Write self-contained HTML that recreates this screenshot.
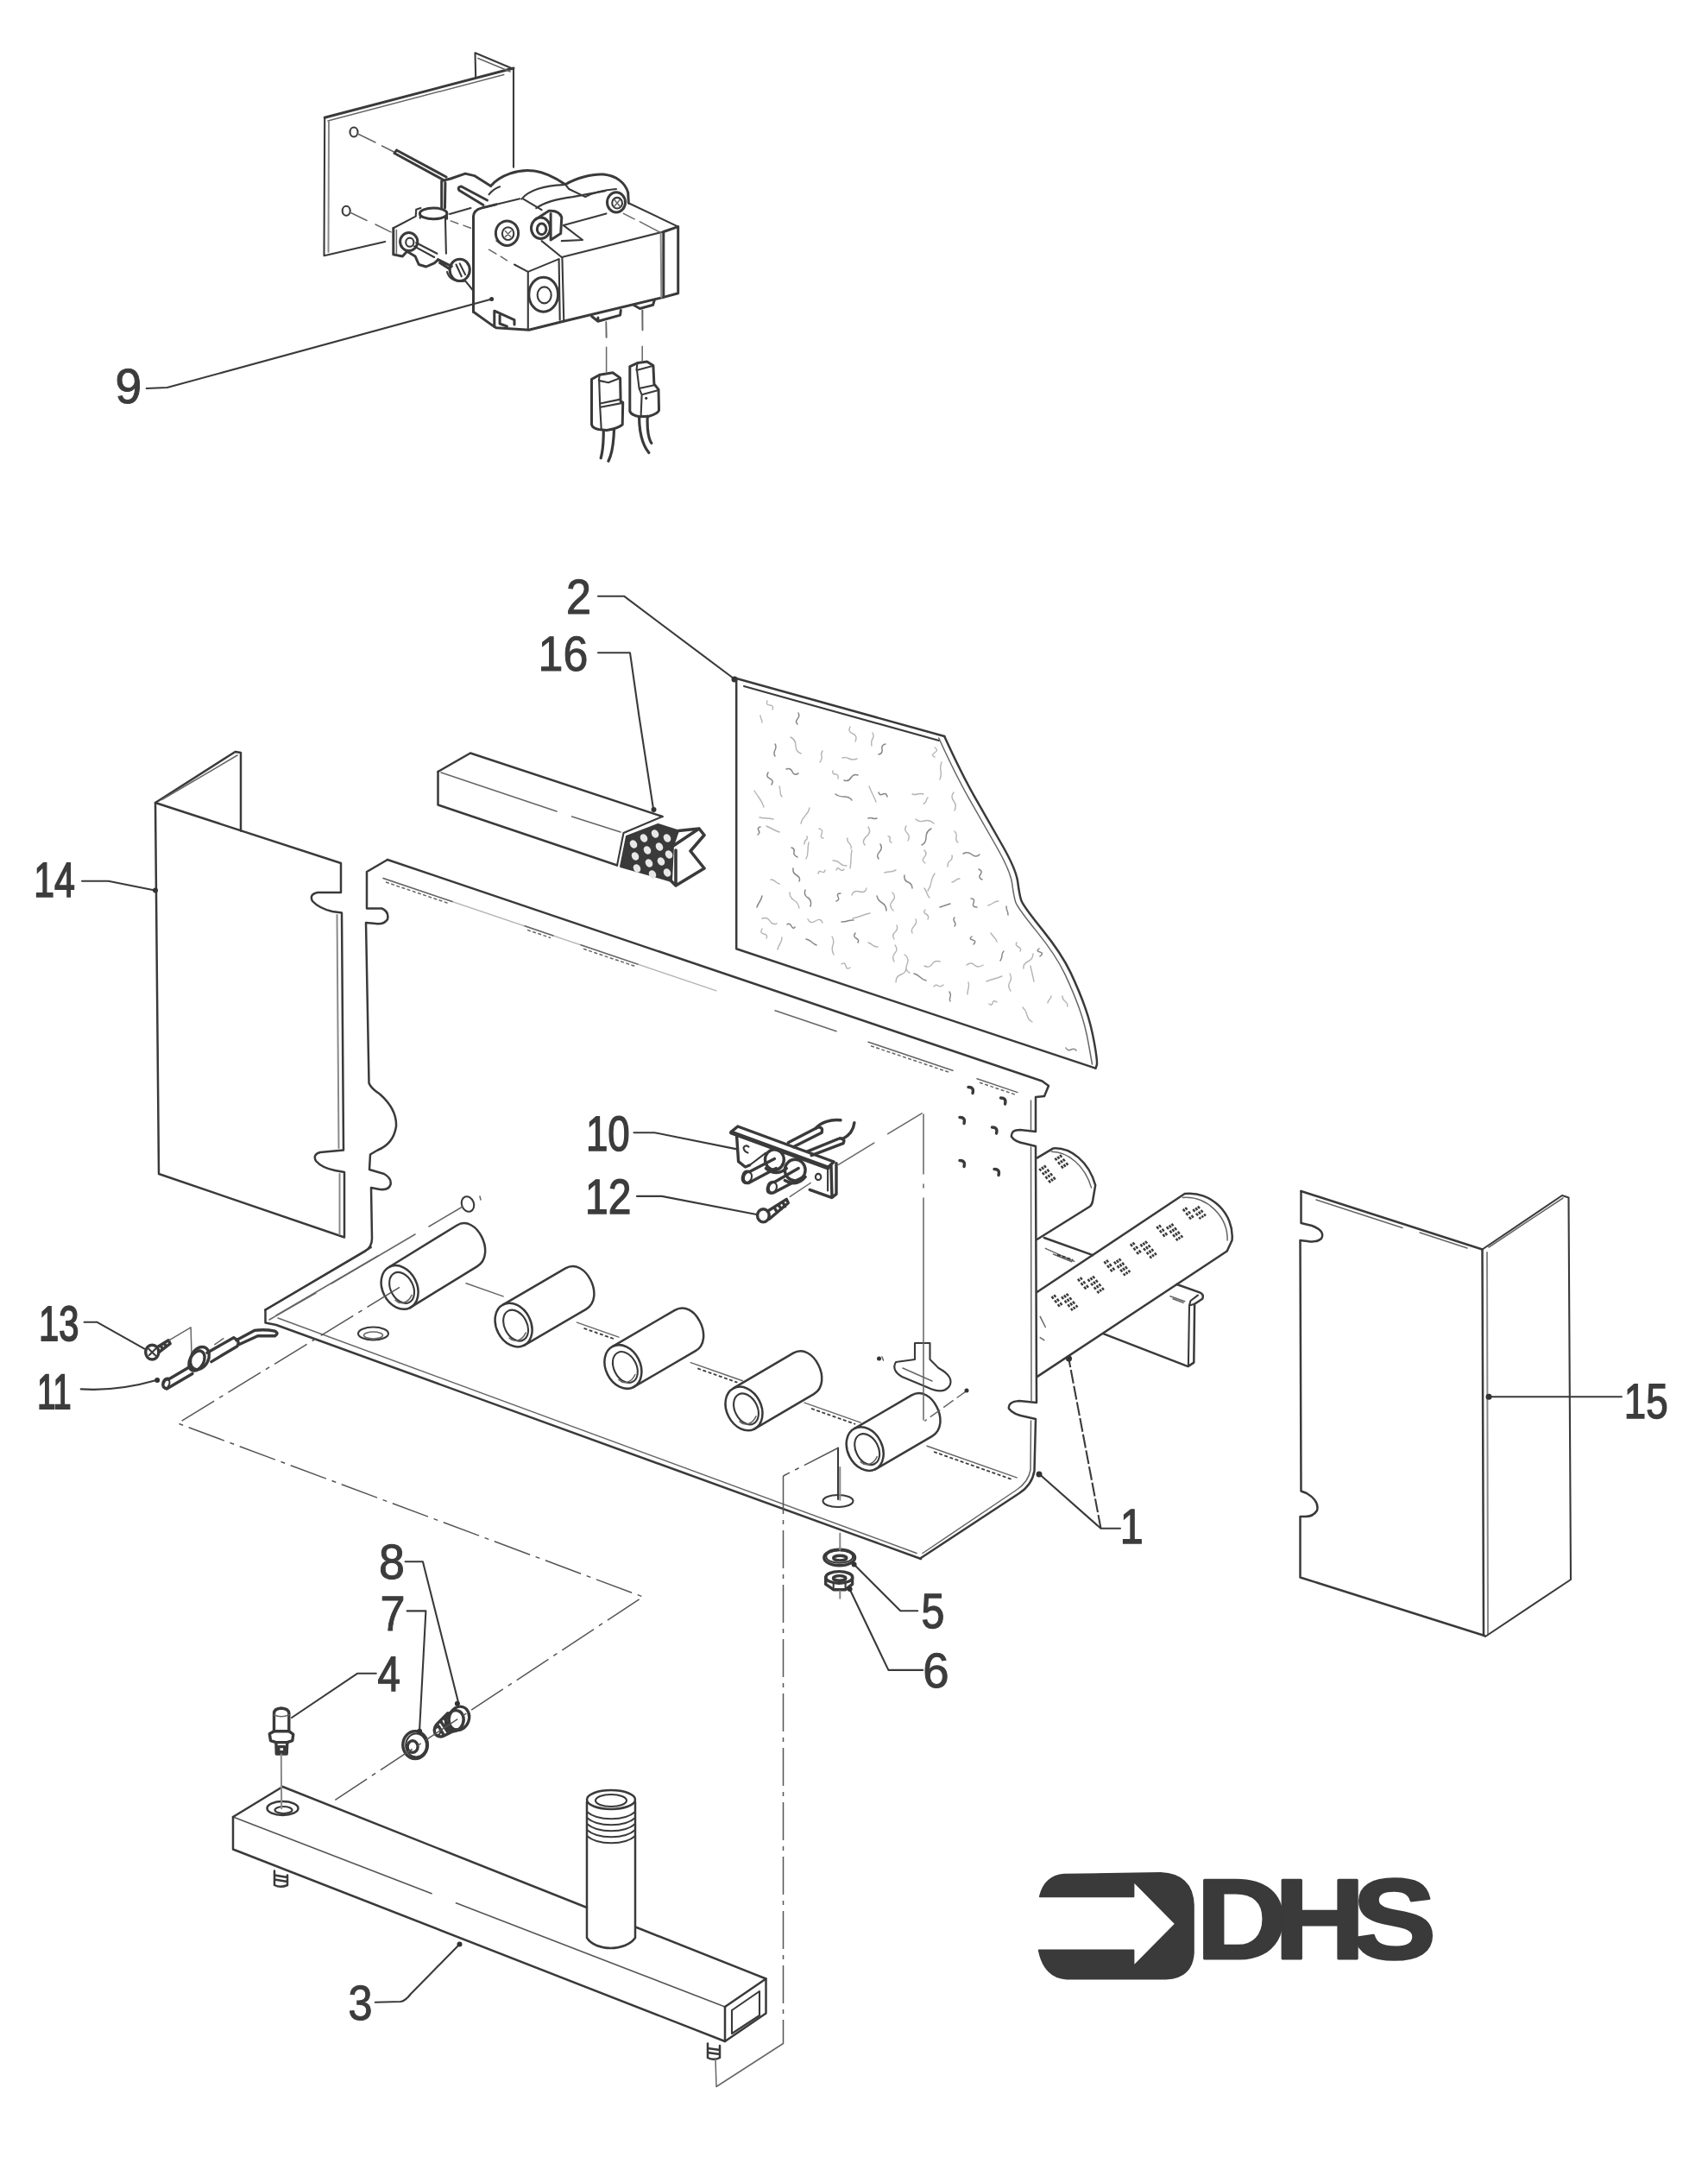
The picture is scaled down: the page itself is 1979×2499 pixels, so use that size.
<!DOCTYPE html>
<html lang="en"><head><meta charset="utf-8"><title>DHS exploded parts diagram</title>
<style>
html,body{margin:0;padding:0;background:#fff}
body{width:1979px;height:2499px;overflow:hidden;font-family:"Liberation Sans",sans-serif}
svg{display:block;filter:blur(.55px)}
.l,.k,.k2,.k3,.t,.c,.g,.m{fill:none;stroke:#3a3a3a;stroke-width:2.1;stroke-linecap:round;stroke-linejoin:round}
.k{stroke-width:2.5}
.k2{stroke-width:3}
.k3{stroke-width:3.4}
.t{stroke-width:1.5;stroke:#666}
.g{stroke-width:2;stroke:#8a8a8a}
.m{stroke-width:1.5;stroke:#888}
.q{fill:none;stroke:#b4b4b4;stroke-width:1.4;stroke-linecap:round}
.c{stroke-width:1.5;stroke:#555;stroke-dasharray:44 7 5 7;stroke-linecap:butt}
[stroke-dasharray]{stroke-linecap:butt}
.h{fill:none;stroke:#3a3a3a;stroke-width:2.4;stroke-linecap:butt;stroke-dasharray:3.4 2.4}
.d{fill:#333;stroke:none}
.f{fill:#3a3a3a;stroke:#3a3a3a;stroke-width:2;stroke-linejoin:round}
.wl{fill:none;stroke:#fff;stroke-width:1.6}
.wh{fill:#e8e8e8;stroke:none}
.w{fill:#fff;stroke:#3a3a3a;stroke-width:2.6;stroke-linejoin:round;stroke-linecap:round}
.n,.logo{text-rendering:geometricPrecision}
.n{font-family:"Liberation Sans",sans-serif;font-size:57px;fill:#3c3c3c;stroke:#3c3c3c}
.n:not([stroke-width]){stroke-width:1}
.logo{font-family:"Liberation Sans",sans-serif;font-weight:bold;font-size:132px;fill:#3a3a3a;stroke:#3a3a3a;stroke-width:3;stroke-linejoin:round}
</style></head>
<body>
<svg width="1979" height="2499" viewBox="0 0 1979 2499">
<text class="n" transform="translate(133.4 467.2) scale(0.969 1)">9</text>
<text class="n" transform="translate(656.1 710.6) scale(0.915 1)">2</text>
<text class="n" transform="translate(623.6 777.3) scale(0.911 1)">16</text>
<text class="n" stroke-width="1.7" transform="translate(39.3 1038.5) scale(0.751 1)">14</text>
<text class="n" stroke-width="1.5" transform="translate(678.9 1332.5) scale(0.802 1)">10</text>
<text class="n" stroke-width="1.3" transform="translate(678 1406.3) scale(0.841 1)">12</text>
<text class="n" stroke-width="1.8" transform="translate(45.1 1553) scale(0.732 1)">13</text>
<text class="n" stroke-width="2.2" transform="translate(43.2 1632.3) scale(0.663 1)">11</text>
<text class="n" transform="translate(439.1 1828.5) scale(0.942 1)">8</text>
<text class="n" transform="translate(440.4 1888.9) scale(0.915 1)">7</text>
<text class="n" stroke-width="1.4" transform="translate(437.4 1958.5) scale(0.829 1)">4</text>
<text class="n" transform="translate(403.5 2340.1) scale(0.885 1)">3</text>
<text class="n" stroke-width="1.3" transform="translate(1067.5 1886.1) scale(0.848 1)">5</text>
<text class="n" transform="translate(1069.3 1954.8) scale(0.958 1)">6</text>
<text class="n" stroke-width="1.3" transform="translate(1297.7 1788.3) scale(0.850 1)">1</text>
<text class="n" stroke-width="1.5" transform="translate(1881.8 1643.3) scale(0.802 1)">15</text>
<path class="f" d="M1204.9,2197.3Q1210.7,2173.5 1233,2171.8L1344.9,2170.1Q1381.6,2171.8 1382.8,2207.4L1382.8,2262.5Q1381.1,2291.1 1350.7,2292.6L1235.9,2292.6Q1210.1,2290.6 1203.8,2259.6L1313.4,2259.6L1313.4,2278.2L1362.1,2228.9L1313.4,2179.5L1313.4,2197.3Z"/>
<text class="logo" letter-spacing="-13.5" transform="translate(1386 2269) scale(1.105 1)">DHS</text>
<path class="k2" d="M376.2,136.2L595,79"/>
<path class="t" d="M380,140L583.8,86.5"/>
<path class="l" d="M376.2,136.2L375.5,296.2L446.2,280"/>
<path class="g" d="M381,141L380.5,292"/>
<path class="l" d="M551.2,90L550.5,61.2L595,80L595,193.8"/>
<path class="t" d="M553.8,67.5L591.2,83"/>
<ellipse class="l" cx="410" cy="153" rx="4.5" ry="5.5"/>
<ellipse class="l" cx="401.2" cy="244.2" rx="4.5" ry="5.5"/>
<path class="t" d="M414.5,155L435,165M442.5,169L457.5,176.5"/>
<path class="t" d="M405.5,246L425,255.5M435,260L453,268.8"/>
<path class="k2" d="M457,177.5L513,208M459.5,174L517,205M457,177.5L459.5,174"/>
<path class="k2" d="M532,220.5L560,237.5M534.5,216L564.5,232M532,220.5Q529.5,216.5 534.5,216"/>
<path class="k2" d="M685.5,439.4L685.5,491.9Q686.5,496 693.6,497.5L702.8,498.6Q717.1,496 721.2,491.9L721.7,466.4L719.1,464.9L718.6,437.9L710,431.8L694.7,434.3Z"/>
<path class="l" d="M694.7,434.3L693.9,440.9L704.9,443.2L718.6,438.1M694.2,440.9L695.2,470.5L696.7,497M695.7,471.7L721.2,466.9M695.2,467.5L718.9,462.6"/>
<path class="k2" d="M699.3,498.6C699.3,513.3 698.2,523.5 696.2,530.7M711.5,497.5C711,513.3 708.9,526.6 704.9,534.2" style="stroke-width:3.2"/>
<path class="k2" d="M729.8,424.6L729.8,476.6Q731.4,480.7 740.6,482.8L751.8,482.2Q762,479.7 763.5,475.6L763,451.1L757.9,445L756.9,423.6L749.7,419L738.5,420.6Z"/>
<path class="l" d="M738.5,420.6L737.5,428.9L756.9,423.8M738,428.9L740.6,450.1L743.6,457.3L742.6,481.9M740.6,450.1L757.9,446.2M743.6,457.3L763,451.9"/>
<path class="k2" d="M740.6,482.8C740.6,501.1 744.6,515.4 751.8,524.6M750.2,482.2C749.7,495 750.8,507.2 754.8,513.3" style="stroke-width:3.2"/>
<circle class="d" cx="748.7" cy="461.3" r="1.6"/>
<path class="t" d="M702.3,373.1L702.8,391M702.6,402.2L702.6,430.8M744.1,359.4L744.4,382.8M744.2,401.2L744.2,418.5"/>
<path class="k2" d="M548.5,361.3L548.5,250.6Q549.2,243.2 557.6,241.1L574.9,236.9"/>
<path class="k2" d="M548.5,361.3L570.7,377.1L574.9,379.8L612.8,382.3L652.9,372.2L768.8,344.4L785.7,339.8L785.7,262.6L768.8,268.5L768.8,344.4"/>
<path class="l" d="M650.8,298L768.8,268.5M651.4,298L653.3,372.2M647.6,300.6L648.7,370.7"/>
<path class="g" d="M765.6,270.6L766.3,344.4"/>
<path class="l" d="M611.8,314.9L611.8,381.9M596,306.5L611.8,314.9L647.6,300.1"/>
<path class="t" d="M566.5,289.2L574.9,294.2M580.2,297.2L587.5,301.8M574.9,279.1L583.3,284.3"/>
<ellipse class="k2" cx="629.7" cy="341.2" rx="16.9" ry="20"/>
<ellipse class="l" cx="630.7" cy="341.9" rx="8" ry="9.5"/>
<path class="k2" d="M572.8,360.2L572.8,378.5M572.8,360.2L596,370.7L596,376M579.1,365.5L579.1,375L587.5,378.1"/>
<circle class="d" cx="569.6" cy="346.5" r="2.5"/>
<path class="k2" d="M511.7,209.5L511.7,241.1M515.9,211.6L515.5,241.1M511.7,209.5L522.2,207L539.1,201.1L549.6,203.6L568.6,215.4"/>
<path class="k2" d="M568.6,215.4C579.1,203.2 600.2,195.2 619.2,198.1C629.7,199.4 642.3,205.3 655,213.7"/>
<path class="l" d="M604.4,230.6C611.8,221.1 629.7,214.8 652.9,214.1M566.5,225.3C570.7,220 574.9,217.9 579.1,216.3"/>
<path class="k2" d="M655,213.7C667.6,206.3 686.6,201.1 699.3,202.1C714,203.6 724.5,211.6 727.7,223.2L728.3,235.2"/>
<path class="l" d="M655,213.7L659.2,219L678.2,228.1C688.7,222.2 701.4,220 714,219"/>
<path class="l" d="M606.5,230.6L627.6,243.2M621.3,241.1C629.7,235.2 646.6,230.2 663.4,228.1L701.4,221.1"/>
<path class="l" d="M557.6,241.1L602.3,230.2"/>
<ellipse class="k2" cx="714" cy="234.4" rx="10.5" ry="11.6"/>
<ellipse class="l" cx="715.1" cy="235.2" rx="5.9" ry="6.3"/>
<path class="t" d="M711.9,231.6L718.2,239M718.2,231.6L711.9,239"/>
<ellipse class="k2" cx="587.5" cy="270.2" rx="13.1" ry="14.3"/>
<ellipse class="l" cx="588.6" cy="270.6" rx="6.7" ry="7.4"/>
<path class="t" d="M585.4,267.5L591.8,274.4M592.2,267.5L585.4,274.4"/>
<ellipse class="k2" cx="626.5" cy="264.3" rx="11" ry="12.2"/>
<ellipse class="k2" cx="627.6" cy="265.4" rx="5.3" ry="6.3"/>
<path class="k2" d="M621.3,253.8L636,244.3Q647.6,243.2 650.8,251.7L649.7,270.6L638.1,278M638.1,247.4L638.1,277"/>
<path class="l" d="M728.3,235.2L785.7,262.6M652.9,261.1L702.4,247.4M650.8,279.1L675,278L652.9,261.1"/>
<path class="t" d="M722.4,247.4L735.1,253.8M741.4,256.9L765.6,269.6"/>
<path class="l" d="M627.6,279.1L650.8,298"/>
<path class="k2" d="M455.8,264.3L455.8,294.9L466.3,297L471.6,291.3L481.1,297L485.3,306.5L493.7,309L503.2,304.8L507.4,301.2"/>
<path class="l" d="M455.8,264.3L481.7,250.6L482.2,242.8L487.4,241.1"/>
<path class="t" d="M459.4,266.4L459.4,293.8"/>
<ellipse class="k2" cx="502.2" cy="247.4" rx="15.8" ry="6.3"/>
<path class="l" d="M486.8,246.4L486.8,252.7M518,247.9L518,253.8M521.1,247.9L545.4,241.1M515.9,250.6L516.9,293.8"/>
<path class="t" d="M522.2,255.9L530.6,259M537,261.1L545.4,264.3"/>
<ellipse class="k2" cx="473.7" cy="280.1" rx="10.1" ry="10.5"/>
<ellipse class="l" cx="474.8" cy="280.7" rx="4.6" ry="5.1"/>
<path class="l" d="M480,285.4L503.2,298M482.2,281.2L506.4,293.8"/>
<ellipse class="k2" cx="532.7" cy="312.8" rx="11.6" ry="12.6"/>
<path class="l" d="M528.5,306.5L534.8,320.2M532.7,305.4L539.1,318.1"/>
<path class="k2" d="M507.4,300.6L523.3,308.6M509.6,304.4L521.1,311.7"/>
<path class="l" d="M518,314.9C520.1,323.3 528.5,327.5 539.1,325.4M539.1,325.4L548.5,337"/>
<path class="k2" d="M685.6,366.5L692.9,372.2L718.6,365.1L719.3,359.6M692.9,372.2L692.9,368M734,353.3L741.4,357.5L756.6,353.3L758.3,347.6"/>
<path class="t" d="M702.4,372.9L702.4,390.8M744.6,359.2L744.6,382.3"/>
<path class="l" d="M569.6,346.5L193.7,449L169.7,450"/>
<path class="l" d="M693,690.7L723,690.7L850,786"/>
<path class="l" d="M693,756.3L730,756.3L740.5,830L757,937"/>
<circle class="d" cx="851" cy="787" r="3.5"/>
<circle class="d" cx="757.5" cy="938" r="3"/>
<path class="k" d="M853.2,786L853.2,1099.3L1269.4,1237.6"/>
<path class="k" d="M853.2,786L1094.2,853"/>
<path class="k" d="M1094.2,853Q1114,896.4 1129.8,924.1Q1145.6,951.8 1161.4,979.5Q1177.2,1007.1 1179.2,1021.6Q1181.1,1036.1 1183.1,1042.7Q1185.1,1049.2 1207.5,1076.9Q1229.9,1104.6 1240.5,1126.9Q1251,1149.3 1257.5,1167.8Q1264.1,1186.2 1268,1208.6Q1272,1231 1270.7,1234.3L1269.4,1237.6"/>
<path class="l" d="M862,795L1088,858"/>
<path class="t" d="M1087.7,855Q1107.5,898.4 1123.3,926.1Q1139.1,953.8 1154.9,981.5Q1170.7,1009.1 1172.7,1023.6Q1174.6,1038.1 1176.6,1044.7Q1178.6,1051.2 1201,1078.9Q1223.4,1106.6 1234,1128.9Q1244.5,1151.3 1251,1169.8Q1257.6,1188.2 1261.5,1210.6L1265.5,1233"/>
<path class="m" d="M1079,960Q1073,963 1073,970T1068,979M881,958Q877,959 879,962T878,967M1020,978Q1023,983 1019,987T1018,995M1235,1214Q1237,1218 1241,1216T1247,1217M975,1068Q979,1068 982,1067T989,1066M883,1038Q882,1042 880,1045T877,1051M1134,1007Q1139,1009 1136,1013T1138,1019M1125,1041Q1130,1041 1128,1046T1132,1051M917,982Q921,983 920,987T924,993M934,1088Q938,1089 940,1091T946,1095M1048,1014Q1047,1020 1052,1022T1057,1029M974,1035Q969,1035 971,1039T969,1044M898,862Q900,865 898,869T898,876M1166,1050Q1166,1053 1167,1055T1168,1060M1204,1099Q1200,1102 1205,1103T1205,1108M925,826Q927,830 924,833T924,839M933,1031Q931,1037 936,1040T939,1050M1026,862Q1021,863 1022,868T1018,874M1018,918Q1019,922 1023,920T1028,923M978,904Q983,906 986,901T994,898M1106,1063Q1104,1065 1106,1068T1106,1073M1059,1128Q1063,1129 1066,1132T1073,1136M1089,1051Q1092,1050 1095,1049T1101,1047M991,1081Q988,1085 992,1087T994,1092M890,895Q887,900 892,902T894,909M1100,1149Q1102,1152 1101,1155T1101,1160M911,891Q916,889 918,894T925,896M1163,1102Q1161,1104 1161,1107T1159,1113M1126,1085Q1122,1088 1127,1089T1128,1094M919,1006Q918,1011 923,1014T926,1021M968,920Q972,923 978,923T987,927M1116,989Q1121,986 1126,990T1135,990M912,1071Q915,1069 917,1073T921,1074M1016,1038Q1017,1043 1022,1046T1027,1055M1006,948Q1009,947 1011,948T1016,948"/>
<path class="q" d="M965,997Q970,997 973,1000T981,1003M935,969Q936,972 934,973T932,978M883,1064Q889,1062 892,1067T900,1070M1071,1029Q1073,1032 1074,1035T1077,1040M1006,1092Q1009,1093 1011,1095T1017,1097M1178,1092Q1176,1095 1180,1097T1182,1102M936,1065Q939,1071 945,1067T953,1069M1091,883Q1089,888 1090,893T1089,903M874,916Q877,921 880,925T885,935M1170,1128Q1173,1133 1170,1138T1171,1148M969,1008Q970,1004 973,1007T978,1007M1071,1119Q1077,1122 1080,1117T1089,1114M1148,1081Q1150,1084 1152,1086T1155,1091M965,893Q964,897 968,897T971,902M1120,1118Q1125,1114 1129,1118T1139,1118M1185,1167Q1189,1171 1190,1176T1196,1184M1072,1054Q1069,1057 1073,1059T1075,1065M987,1037Q989,1031 996,1033T1004,1029M1082,1143Q1084,1140 1087,1142T1093,1141M906,1086Q906,1090 904,1093T901,1100M948,1012Q949,1008 952,1010T956,1008M889,812Q887,817 892,817T895,822M1145,1049Q1148,1048 1151,1046T1157,1044M1197,1105Q1197,1111 1191,1114T1186,1122M1039,1072Q1041,1077 1037,1080T1036,1088M1048,1106Q1054,1110 1051,1117T1054,1127M883,1076Q880,1081 885,1082T888,1087M1029,969Q1032,969 1031,972T1033,976M1057,920Q1060,921 1063,920T1070,920M985,842Q982,848 988,850T991,859M1075,924Q1074,925 1073,928T1070,931M1122,1138Q1123,1141 1122,1145T1121,1152M915,1034Q915,1040 920,1043T926,1052M949,960Q954,961 952,966T954,971M1106,963Q1109,966 1108,970T1110,976M880,947Q884,948 888,948T896,949M1050,957Q1047,961 1051,965T1052,974M982,971Q981,974 984,977T986,983M1194,1119Q1195,1124 1196,1128T1198,1137M1061,949Q1065,953 1071,951T1082,954M953,870Q951,873 952,876T950,883M964,1085Q967,1090 965,1095T966,1106M1025,1011Q1028,1010 1031,1010T1038,1008M1143,1137Q1148,1135 1152,1134T1161,1131M1103,991Q1104,995 1101,997T1098,1004M1103,1022Q1105,1022 1107,1020T1112,1018M1011,849Q1013,853 1011,856T1010,864M1037,1095Q1041,1100 1037,1104T1036,1114M1083,1012Q1080,1016 1079,1022T1075,1032M1146,1163Q1149,1166 1150,1162T1155,1161M903,911Q904,913 904,917T906,923M1218,1154Q1218,1156 1216,1158T1214,1162M1071,985Q1075,989 1071,993T1072,1000M1105,918Q1101,923 1105,928T1106,939M1050,1121Q1050,1127 1044,1129T1038,1138M1231,1154Q1231,1158 1234,1160T1237,1166M975,1117Q979,1114 980,1119T985,1121M937,976Q936,981 936,986T934,995M881,829Q881,831 882,833T883,837M976,878Q980,877 984,879T993,879M1007,911Q1009,916 1011,920T1015,929M916,854Q922,857 922,864T928,873M1061,1065Q1063,1069 1059,1073T1057,1081M1006,958Q1010,964 1004,969T1002,979M988,1064Q993,1063 998,1061T1008,1058M893,1019Q896,1019 898,1021T903,1024M938,936Q937,941 933,945T928,954M1034,1034Q1039,1039 1034,1044T1035,1055M1083,866Q1088,869 1083,872T1083,877M888,957Q892,959 896,961T903,964M987,985Q986,990 986,995T985,1006"/>
<path class="k" d="M507.5,894L545,872.5L767.5,946"/>
<path class="k" d="M507.5,894L507.5,932.5L715,1002.5"/>
<path class="l" d="M722.5,965L715,1002.5M722.5,965L767.5,946"/>
<path class="t" d="M511,895L645,940M662.5,946L719,964"/>
<path class="f" d="M726,969L762.5,955L786,962.5L780,980L778,1021L719,1004Z"/>
<ellipse class="wh" cx="734" cy="978" rx="4" ry="5" transform="rotate(-30 734 978)"/>
<ellipse class="wh" cx="746" cy="971" rx="4" ry="5" transform="rotate(-30 746 971)"/>
<ellipse class="wh" cx="759" cy="966" rx="4" ry="5" transform="rotate(-30 759 966)"/>
<ellipse class="wh" cx="773" cy="971" rx="4" ry="5" transform="rotate(-30 773 971)"/>
<ellipse class="wh" cx="736" cy="992" rx="4" ry="5" transform="rotate(-30 736 992)"/>
<ellipse class="wh" cx="750" cy="985" rx="4" ry="5" transform="rotate(-30 750 985)"/>
<ellipse class="wh" cx="764" cy="981" rx="4" ry="5" transform="rotate(-30 764 981)"/>
<ellipse class="wh" cx="775" cy="990" rx="4" ry="5" transform="rotate(-30 775 990)"/>
<ellipse class="wh" cx="738" cy="1006" rx="4" ry="5" transform="rotate(-30 738 1006)"/>
<ellipse class="wh" cx="752" cy="1000" rx="4" ry="5" transform="rotate(-30 752 1000)"/>
<ellipse class="wh" cx="766" cy="998" rx="4" ry="5" transform="rotate(-30 766 998)"/>
<ellipse class="wh" cx="773" cy="1011" rx="4" ry="5" transform="rotate(-30 773 1011)"/>
<ellipse class="wh" cx="756" cy="1013" rx="4" ry="5" transform="rotate(-30 756 1013)"/>
<path class="k" d="M780,980L810,960L816,967.5L800,986L816,1006L783,1026L778,1021M786,962.5L810,960M783,985L783,1024" style="stroke-width:3.6"/>
<path class="k" d="M449,996L425,1010L425,1052.5L442.5,1052.5Q451,1056.5 449,1065Q445,1071.5 435,1070L424,1069L427.5,1255Q430,1261 440,1267.5Q460,1285 459,1305Q456,1325 437.5,1332.5L429,1337.5L428,1355L445,1360Q454,1365 452.5,1372.5Q450,1380 437.5,1377.5L430,1376L431,1435Q431,1445 422.5,1450L307.5,1517.5"/>
<path class="k" d="M449,996L1207.5,1252.5L1215,1258L1210,1270"/>
<path class="q" d="M444,1017.5L830,1147.8"/>
<path class="t" d="M444,1017.5L524,1044.5"/>
<path class="t" d="M447,1022L521,1047" stroke-dasharray="4 2.5"/>
<path class="t" d="M608,1072.8L641,1084"/>
<path class="t" d="M611,1077.4L638,1086.5" stroke-dasharray="4 2.5"/>
<path class="t" d="M673,1094.8L739,1117.1"/>
<path class="t" d="M676,1099.3L736,1119.5" stroke-dasharray="4 2.5"/>
<path class="t" d="M1006,1207.2L1104,1240.2"/>
<path class="t" d="M1009,1211.7L1101,1242.7" stroke-dasharray="4 2.5"/>
<path class="t" d="M1132,1249.7L1179,1265.6"/>
<path class="t" d="M1135,1254.2L1176,1268" stroke-dasharray="4 2.5"/>
<path class="t" d="M898,1170.7L969,1194.7"/>
<path class="k" d="M1210,1270L1200,1271L1200,1311L1182,1309Q1171,1309 1172,1317Q1176,1323 1188,1325L1200,1328L1201,1625L1181,1623Q1167.5,1624 1169,1632Q1174,1639 1189,1641.5L1200,1644L1198.5,1704Q1196,1720 1181,1730L1067,1805"/>
<path class="t" d="M1194.5,1275L1194.5,1309M1194.5,1329L1195,1623M1194.5,1646L1194,1703Q1191.5,1717 1178,1726L1069,1799.5"/>
<path class="k" d="M307.5,1517.5L307.5,1532.5L320,1535L1067,1806"/>
<path class="l" d="M307.5,1517.5L430,1445"/>
<path class="t" d="M320,1524L438,1455"/>
<path class="t" d="M322,1527L1062,1799.5"/>
<ellipse class="l" cx="432.5" cy="1545" rx="17.5" ry="7.5"/>
<ellipse class="t" cx="432.5" cy="1547" rx="11" ry="4"/>
<ellipse class="l" cx="971" cy="1739" rx="17.5" ry="7"/>
<ellipse class="l" cx="542" cy="1395" rx="7" ry="9" transform="rotate(-20 542 1395)"/>
<path class="t" d="M556,1386L557,1390"/>
<path class="k" d="M451.2,1467.7L529.2,1419.7C551.9,1405.7 575.7,1453.1 553,1467.1L475,1515.1"/>
<ellipse class="k" cx="463.1" cy="1491.4" rx="20" ry="26.5" transform="rotate(-27 463.1 1491.4)"/>
<ellipse class="l" cx="465.6" cy="1491.9" rx="13" ry="19" transform="rotate(-27 465.6 1491.9)"/>
<path class="t" d="M458.1,1506.4C464.1,1512.4 473.1,1509.4 477.1,1500.4"/>
<path class="k" d="M583.2,1511.4L655.2,1469.4C678.2,1456 702,1503.4 679,1516.8L607,1558.8"/>
<ellipse class="k" cx="595.1" cy="1535.1" rx="20" ry="26.5" transform="rotate(-27 595.1 1535.1)"/>
<ellipse class="l" cx="597.6" cy="1535.6" rx="13" ry="19" transform="rotate(-27 597.6 1535.6)"/>
<path class="t" d="M590.1,1550.1C596.1,1556.1 605.1,1553.1 609.1,1544.1"/>
<path class="k" d="M710,1559.8L782,1517.8C805,1504.4 828.8,1551.8 805.8,1565.2L733.8,1607.2"/>
<ellipse class="k" cx="721.9" cy="1583.5" rx="20" ry="26.5" transform="rotate(-27 721.9 1583.5)"/>
<ellipse class="l" cx="724.4" cy="1584" rx="13" ry="19" transform="rotate(-27 724.4 1584)"/>
<path class="t" d="M716.9,1598.5C722.9,1604.5 731.9,1601.5 735.9,1592.5"/>
<path class="k" d="M850.1,1608.2L919.1,1567.7C942.1,1554.2 965.9,1601.6 942.9,1615.1L873.9,1655.6"/>
<ellipse class="k" cx="862" cy="1631.9" rx="20" ry="26.5" transform="rotate(-27 862 1631.9)"/>
<ellipse class="l" cx="864.5" cy="1632.4" rx="13" ry="19" transform="rotate(-27 864.5 1632.4)"/>
<path class="t" d="M857,1646.9C863,1652.9 872,1649.9 876,1640.9"/>
<path class="k" d="M990.3,1654.9L1056.3,1616.4C1079.3,1603 1103.1,1650.4 1080.1,1663.8L1014.1,1702.3"/>
<ellipse class="k" cx="1002.2" cy="1678.6" rx="20" ry="26.5" transform="rotate(-27 1002.2 1678.6)"/>
<ellipse class="l" cx="1004.7" cy="1679.1" rx="13" ry="19" transform="rotate(-27 1004.7 1679.1)"/>
<path class="t" d="M997.2,1693.6C1003.2,1699.6 1012.2,1696.6 1016.2,1687.6"/>
<path class="t" d="M540,1486.7L583,1501.9"/>
<path class="t" d="M1120,1611.3L1071.3,1646.4" stroke-dasharray="14 5"/>
<path class="t" d="M668.5,1532.1L716.9,1549.1"/>
<path class="l" d="M676.5,1538.9L710.9,1551" stroke-dasharray="4 2.5" style="stroke-width:1.8"/>
<path class="t" d="M800.3,1578.6L860.4,1599.8"/>
<path class="l" d="M808.3,1585.4L854.4,1601.7" stroke-dasharray="4 2.5" style="stroke-width:1.8"/>
<path class="t" d="M932.1,1625.1L997.2,1648.1"/>
<path class="l" d="M940.1,1631.9L991.2,1650" stroke-dasharray="4 2.5" style="stroke-width:1.8"/>
<path class="t" d="M1074,1675.2L1178,1711.9"/>
<path class="l" d="M1082,1682L1172,1713.8" stroke-dasharray="4 2.5" style="stroke-width:1.8"/>
<path class="k" d="M1122,1259.5Q1129,1259.5 1127,1266.5" style="stroke-width:3.4"/>
<path class="k" d="M1159.5,1272Q1166.5,1272 1164.5,1279" style="stroke-width:3.4"/>
<path class="k" d="M1112,1294.5Q1119,1294.5 1117,1301.5" style="stroke-width:3.4"/>
<path class="k" d="M1149.5,1306Q1156.5,1306 1154.5,1313" style="stroke-width:3.4"/>
<path class="k" d="M1112,1344.5Q1119,1344.5 1117,1351.5" style="stroke-width:3.4"/>
<path class="k" d="M1152,1354.5Q1159,1354.5 1157,1361.5" style="stroke-width:3.4"/>
<path class="l" d="M1060,1556L1077.5,1556L1077.5,1575L1087.5,1585Q1106,1595 1100,1606Q1092.5,1616 1075,1607.5L1045,1595Q1032.5,1587.5 1038,1578L1060,1575Z"/>
<path class="t" d="M1046,1585L1080,1600"/>
<circle class="d" cx="1018.5" cy="1574" r="2.5"/>
<circle class="d" cx="1120" cy="1611" r="2.5"/>
<path class="t" d="M1022,1572L1023.5,1576"/>
<path class="k" d="M1201.9,1341.4L1220.4,1330.4C1240.2,1328.9 1261.5,1345.7 1269.2,1373.1L1266.1,1391.3Q1265.4,1395.9 1262.8,1397.7L1201.9,1435.8"/>
<path class="t" d="M1218.2,1334.3C1237.2,1334.3 1257,1350.2 1264.6,1376.1"/>
<path class="k" d="M1201.9,1496.7L1372.7,1383C1403.1,1379.2 1430.5,1406.6 1427.5,1437L1421.7,1449.5L1201.9,1594.9"/>
<path class="t" d="M1370.4,1387.5C1398.5,1385.2 1422.9,1409.6 1422.1,1437"/>
<path class="k" d="M1209.8,1434L1266.1,1454.1"/>
<path class="t" d="M1211.3,1446.4L1244.8,1461.4M1220.4,1453L1241.8,1461.7"/>
<path class="l" d="M1225,1453.7L1243.3,1459.8" stroke-dasharray="4 2"/>
<path class="h" d="M1387.9,1397.4L1396.9,1408.7"/>
<path class="h" d="M1385.2,1399.3L1394.1,1410.5"/>
<path class="h" d="M1382.3,1401.1L1391.2,1412.3"/>
<path class="h" d="M1373.4,1398.9L1383.8,1412"/>
<path class="h" d="M1370.7,1400.8L1381,1413.9"/>
<path class="h" d="M1357.4,1417.7L1370.2,1433.7"/>
<path class="h" d="M1354.7,1419.5L1367.3,1435.5"/>
<path class="h" d="M1351.8,1421.3L1364.6,1437.3"/>
<path class="h" d="M1343,1419.2L1353.3,1432.3"/>
<path class="h" d="M1340.2,1421L1350.6,1434.1"/>
<path class="h" d="M1327,1437.9L1339.8,1453.9"/>
<path class="h" d="M1324.3,1439.7L1336.9,1455.7"/>
<path class="h" d="M1321.4,1441.6L1334.2,1457.7"/>
<path class="h" d="M1312.5,1439.4L1322.9,1452.5"/>
<path class="h" d="M1309.8,1441.3L1320.2,1454.4"/>
<path class="h" d="M1296.6,1458.2L1309.3,1474.1"/>
<path class="h" d="M1293.8,1460L1306.5,1476"/>
<path class="h" d="M1290.9,1461.8L1303.7,1477.8"/>
<path class="h" d="M1282.1,1459.7L1292.4,1472.8"/>
<path class="h" d="M1279.4,1461.5L1289.7,1474.6"/>
<path class="h" d="M1266.1,1478.4L1278.9,1494.4"/>
<path class="h" d="M1263.4,1480.2L1276,1496.2"/>
<path class="h" d="M1260.5,1482.1L1273.3,1498.2"/>
<path class="h" d="M1251.7,1479.9L1262,1493"/>
<path class="h" d="M1248.9,1481.8L1259.3,1494.8"/>
<path class="h" d="M1235.7,1498.7L1248.5,1514.6"/>
<path class="h" d="M1232.9,1500.5L1245.6,1516.5"/>
<path class="h" d="M1230,1502.3L1242.8,1518.3"/>
<path class="h" d="M1221.2,1500.2L1231.6,1513.3"/>
<path class="h" d="M1218.5,1502L1228.8,1515.1"/>
<path class="h" d="M1228.1,1338.1L1238.4,1351.1"/>
<path class="h" d="M1225.3,1339.9L1235.7,1353"/>
<path class="h" d="M1222.4,1341.7L1232.9,1354.8"/>
<path class="h" d="M1209.8,1350.2L1223,1366.8"/>
<path class="h" d="M1207,1352.1L1220.3,1368.7"/>
<path class="h" d="M1204.2,1353.9L1217.4,1370.5"/>
<path class="t" d="M1205.2,1525.3L1211.3,1537.5M1205.2,1549.6L1209.8,1552.7"/>
<path class="k" d="M1363.5,1488L1389.4,1497.1Q1395.5,1499.4 1393.2,1504.7L1384.1,1510.8L1383.3,1578.6L1376.5,1583.1L1278.3,1545.1"/>
<path class="l" d="M1378,1512.4L1376.9,1582.4M1378,1512.4L1384.1,1510.8M1387.9,1500.6L1379.5,1507L1378,1512.4"/>
<path class="t" d="M1355.9,1501.7L1372.7,1507.8M1359,1504.7L1371.1,1509.3"/>
<path class="k" d="M180,930L272.5,871L279,872L279,962.5"/>
<path class="k" d="M180,930L395,1000L395,1034L368,1034Q358,1036 362,1044Q370,1052.5 385,1056L396,1057.5L398,1332.5L371,1335Q362,1337.5 366,1345Q373,1353 388,1356L399,1358L399,1433.5L184,1360Z"/>
<path class="g" d="M390.5,1060L392.5,1330M393.5,1360L393.5,1430"/>
<path class="t" d="M187.5,926.5L275,875"/>
<path class="l" d="M95,1020.7L125.5,1020.7L179.3,1031.5"/>
<circle class="d" cx="180" cy="1031.5" r="3"/>
<path class="k" d="M1507.5,1380L1507.5,1417L1520,1420Q1536,1426 1531,1435Q1525,1440 1515,1438L1506.5,1437L1507.5,1727.5L1514,1730Q1529,1739 1526,1750Q1521,1758 1510,1757L1506.5,1757L1506.5,1827.5L1720,1895"/>
<path class="k" d="M1507.5,1380L1717.5,1447.5"/>
<path class="k" d="M1717.5,1447.5L1719,1895"/>
<path class="g" d="M1723,1451L1724,1893"/>
<path class="l" d="M1717.5,1447.5L1810,1385L1817.5,1387.5L1820,1830L1721,1896"/>
<path class="t" d="M1725,1445L1811,1388"/>
<path class="t" d="M1525,1390L1625,1422.5M1645,1428L1700,1446"/>
<path class="l" d="M1724.5,1618.3L1878.9,1618.3"/>
<circle class="d" cx="1725" cy="1618.3" r="3.5"/>
<path class="l" d="M1298,1770.8L1275.5,1770.8L1203.9,1707.5"/>
<path class="l" d="M1275.5,1770.8L1238.3,1574" stroke-dasharray="16 3"/>
<circle class="d" cx="1204" cy="1708" r="3.5"/>
<circle class="d" cx="1238.5" cy="1574" r="3.5"/>
<path class="k" d="M327.5,2070L680,2210M737.5,2233L887.5,2292.5"/>
<path class="l" d="M270,2105L500,2193.8M528.5,2204.8L840,2325" style="stroke-width:1.6;stroke:#555"/>
<path class="k" d="M840,2325L887.5,2292.5L887.5,2332.5L840,2365L270,2142.5L270,2105"/>
<path class="k" d="M270,2105L327.5,2070M840,2325L840,2365"/>
<path class="l" d="M848,2329L880,2307L880,2335L848,2356Z"/>
<ellipse class="k" cx="327.5" cy="2095" rx="18" ry="8"/>
<ellipse class="l" cx="328.5" cy="2097" rx="10" ry="4"/>
<path class="k" d="M318,2167.5L318,2184Q325,2187.5 333,2184L333,2172.5M318,2172.5L333,2175M318,2177.5L333,2180"/>
<path class="k" d="M820,2367.5L820,2384Q827,2387.5 834,2384L834,2370M820,2373L834,2375M820,2378L834,2380"/>
<path class="k" d="M680,2087.5L680,2245C690,2261 725,2261 736,2245L736,2087.5"/>
<ellipse class="k" cx="708" cy="2085" rx="28" ry="11"/>
<ellipse class="l" cx="708" cy="2086" rx="18" ry="7"/>
<path class="l" d="M680,2099C692.5,2110 724,2110 736,2099"/>
<path class="l" d="M680,2106C692.5,2117 724,2117 736,2106"/>
<path class="l" d="M680,2113C692.5,2124 724,2124 736,2113"/>
<path class="l" d="M680,2120C692.5,2131 724,2131 736,2120"/>
<path class="l" d="M680,2127C692.5,2138 724,2138 736,2127"/>
<path class="l" d="M434.8,2319.7L464.3,2319Q470,2318 476,2310L532.5,2252.5"/>
<circle class="d" cx="532.5" cy="2252.5" r="3"/>
<path class="l" d="M847.6,1312.2L959.1,1352.8" style="stroke-width:5"/>
<path class="k3" d="M847.2,1311.4L854.8,1305L966.2,1346L959.1,1352.8"/>
<path class="k3" d="M853.6,1316.1L855.6,1345.6L863.5,1352L868.5,1350M963,1350.6L964,1387.4L969,1383.4L969,1347.6M938.2,1378.4L963.4,1387.4"/>
<path class="l" d="M868.5,1350L887.4,1335.6M959.1,1352.8L959.1,1379.4"/>
<path class="l" d="M867.5,1328.7Q863.5,1325.7 861.5,1329.7Q861.9,1334.1 866.5,1335.6"/>
<ellipse class="l" cx="948.1" cy="1363.5" rx="3.2" ry="3.6"/>
<path class="k3" d="M860.5,1363.5Q859.5,1371.5 867.5,1370.5L899.3,1353.6M860.5,1363.5Q861.5,1355.6 868.5,1357.5L897.4,1342.6"/>
<ellipse class="l" cx="866.5" cy="1363.9" rx="4.4" ry="6" transform="rotate(20 866.5 1363.9)"/>
<path class="k3" d="M889.4,1376.5Q888.4,1383.8 896.4,1381.8L929.2,1364.5M889.4,1376.5Q890.4,1368.5 897.4,1369.5L925.2,1353.6"/>
<ellipse class="l" cx="895.4" cy="1375.9" rx="4.4" ry="6" transform="rotate(20 895.4 1375.9)"/>
<ellipse class="k3" cx="897.4" cy="1343.6" rx="10.9" ry="11.9"/>
<ellipse class="k3" cx="921.2" cy="1355.6" rx="11.9" ry="12.3"/>
<path class="k3" d="M887.4,1353.6Q899.3,1363.5 911.3,1353.6M909.3,1367.5Q923.2,1375.5 933.2,1363.5"/>
<path class="k3" d="M913.3,1323.7L947.1,1306.2M919.3,1328.7L952.1,1312.2M947.1,1306.2Q954.1,1304.8 952.1,1312.2"/>
<path class="k3" d="M935.2,1334.1L973,1318.7M940.2,1338.6L977,1324.7M973,1318.7Q980,1318.7 977,1324.7"/>
<path class="k3" d="M945.1,1307.4C951.1,1299.8 963,1296.6 974,1297.8M976,1319.7C983.9,1315.7 988.9,1309.8 989.9,1300.8"/>
<ellipse class="k3" cx="884.4" cy="1408.3" rx="6.8" ry="7.6"/>
<path class="k3" d="M889.4,1403.3L911.3,1389.4L913.3,1393.8L891.4,1412.3M897.4,1399.3L900.3,1404.3M902.3,1396.4L905.3,1400.9M906.9,1393L909.7,1397.8"/>
<path class="l" d="M734.5,1312.2L758.4,1312.2L852.5,1331.1"/>
<path class="l" d="M738,1385.9L766.8,1385.9L876.4,1407"/>
<path class="t" d="M915.3,1386.4L939.2,1370.5M971,1349.6L1012.8,1324.1M1028.7,1313.7L1068.1,1289.9"/>
<path class="t" d="M1070,1291L1070,1360M1070,1372L1070,1376M1070,1388L1070,1645"/>
<path class="l" d="M97.6,1531.8L112.6,1531.8L167.3,1562.7"/>
<ellipse class="k3" cx="176.3" cy="1566.6" rx="7.6" ry="8.4"/>
<path class="l" d="M172.3,1562.7L180.2,1570.6M180.2,1562.7L172.9,1570"/>
<path class="k3" d="M182.2,1560.7L195.2,1552.7L197.2,1556.7L184.2,1566.6M186.2,1558.7L188.2,1562.7M190.2,1556.1L192.4,1560.1"/>
<path class="t" d="M196.2,1552.7L221.1,1537.8L222,1569.6"/>
<path class="l" d="M93.7,1609.4C123.5,1611.4 155.4,1606.5 181.2,1599.1"/>
<circle class="d" cx="182.2" cy="1599.1" r="3"/>
<path class="k3" d="M189.2,1601.5Q187.2,1607.4 193.2,1609L223,1591.5M189.2,1601.5Q191.2,1596.5 196.2,1597.5L219.1,1584"/>
<ellipse class="l" cx="192.8" cy="1603.5" rx="3.2" ry="5.2" transform="rotate(25 192.8 1603.5)"/>
<ellipse class="k3" cx="231.4" cy="1573.6" rx="10" ry="13.9" transform="rotate(28 231.4 1573.6)"/>
<ellipse class="k3" cx="228" cy="1576.6" rx="8" ry="12.3" transform="rotate(28 228 1576.6)"/>
<path class="k3" d="M240,1567.2L270.8,1549.7M244.9,1577.6L274.8,1559.7Q278.8,1553.7 270.8,1549.7"/>
<path class="t" d="M248.9,1557.7L258.9,1550.7"/>
<path class="k3" d="M273.8,1552.7L294.7,1541.4Q306.7,1539.8 318.6,1542.2Q323.6,1544.7 318.6,1547.7L298.7,1547.7L276.8,1557.7"/>
<path class="k3" d="M317.5,2005.7L317.5,1984.8Q317.9,1979.4 325.8,1979Q334.2,1979.4 334.8,1984.8L334.8,2005.7"/>
<path class="t" d="M317.5,1986.8Q325.8,1990.8 334.8,1986.8"/>
<path class="k3" d="M312.3,2008.7L317.5,2005.7L334.8,2005.7L339.8,2009.3L338.8,2016.6L332.8,2018.6L319.9,2018.6L313.5,2016.6Z"/>
<path class="k3" d="M319.9,2018.6L320.3,2032L332.2,2032L332.8,2018.6M322.8,2023.6L329.8,2023.6L329.8,2029.6L322.8,2029.6Z"/>
<path class="g" d="M325.8,2032.6L326.2,2095.3"/>
<path class="l" d="M435.8,1938.8L414,1938.8L338,1990"/>
<ellipse class="k3" cx="481.1" cy="2021.6" rx="14.3" ry="15.9"/>
<ellipse class="l" cx="482.1" cy="2022" rx="11.9" ry="13.5"/>
<ellipse class="k3" cx="478.1" cy="2023.6" rx="6" ry="6.8"/>
<path class="l" d="M471.7,1866.4L493.4,1866.4L486,2006"/>
<ellipse class="k3" cx="531.9" cy="1990.8" rx="11.5" ry="13.9" transform="rotate(20 531.9 1990.8)"/>
<ellipse class="k3" cx="526.9" cy="1993.7" rx="10" ry="12.3" transform="rotate(20 526.9 1993.7)"/>
<path class="k3" d="M518.9,1984.8L506,1997.7Q501,2003.7 505,2009.7Q509,2013.7 514.9,2010.7L528.9,2003.7"/>
<path class="k3" d="M511,1994.7L518.9,2006.7M514.9,1990.8L522.9,2003.3M508,1999.7L513.9,2009.7"/>
<ellipse class="l" cx="507" cy="2005.7" rx="3.6" ry="4.8" transform="rotate(20 507 2005.7)"/>
<path class="l" d="M469.6,1809.2L489.9,1809.2L531.5,1974"/>
<circle class="d" cx="529.9" cy="1973.8" r="3"/>
<circle class="d" cx="486.1" cy="2005.7" r="3"/>
<ellipse class="k3" cx="972.7" cy="1804.5" rx="17.9" ry="9.2"/>
<ellipse class="l" cx="972.7" cy="1803.5" rx="15.5" ry="7.2"/>
<ellipse class="k3" cx="973.3" cy="1805.1" rx="7.6" ry="2.8"/>
<path class="k3" d="M956.7,1827.4L956.7,1835.4L965.7,1841.7L979.6,1841.7L987.6,1835.4L987.6,1827.4"/>
<ellipse class="k3" cx="972.3" cy="1827.4" rx="15.5" ry="6.8"/>
<ellipse class="k3" cx="972.7" cy="1828.4" rx="7.2" ry="2.8"/>
<path class="l" d="M965.7,1834.4L965.7,1841.7M979.6,1834.4L979.6,1841.7"/>
<path class="g" d="M973.3,1700L973.3,1737.8M973.3,1776.6L973.3,1795.2M973.3,1843.3L973.3,1851.7"/>
<path class="l" d="M990.6,1813.5L1043.3,1866.2L1063.2,1866.2"/>
<path class="l" d="M984.6,1841.3L1029.4,1934.9L1069.2,1934.9"/>
<circle class="d" cx="989.6" cy="1812.5" r="3"/>
<circle class="d" cx="984.6" cy="1840.9" r="3"/>
<path class="c" d="M463,1491.4L206,1649L745,1850L385,2087.5"/>
<path class="t" d="M536,1398L497,1421M481,1430L384,1487M366,1498L312,1529"/>
<path class="l" d="M971,1677.5L971,1737"/>
<path class="c" d="M971,1677.5L907.5,1710"/>
<path class="c" d="M907.5,1710L907.5,2367.5"/>
<path class="t" d="M907.5,2367.5L830,2417.5L829,2385"/>
</svg>
</body></html>
